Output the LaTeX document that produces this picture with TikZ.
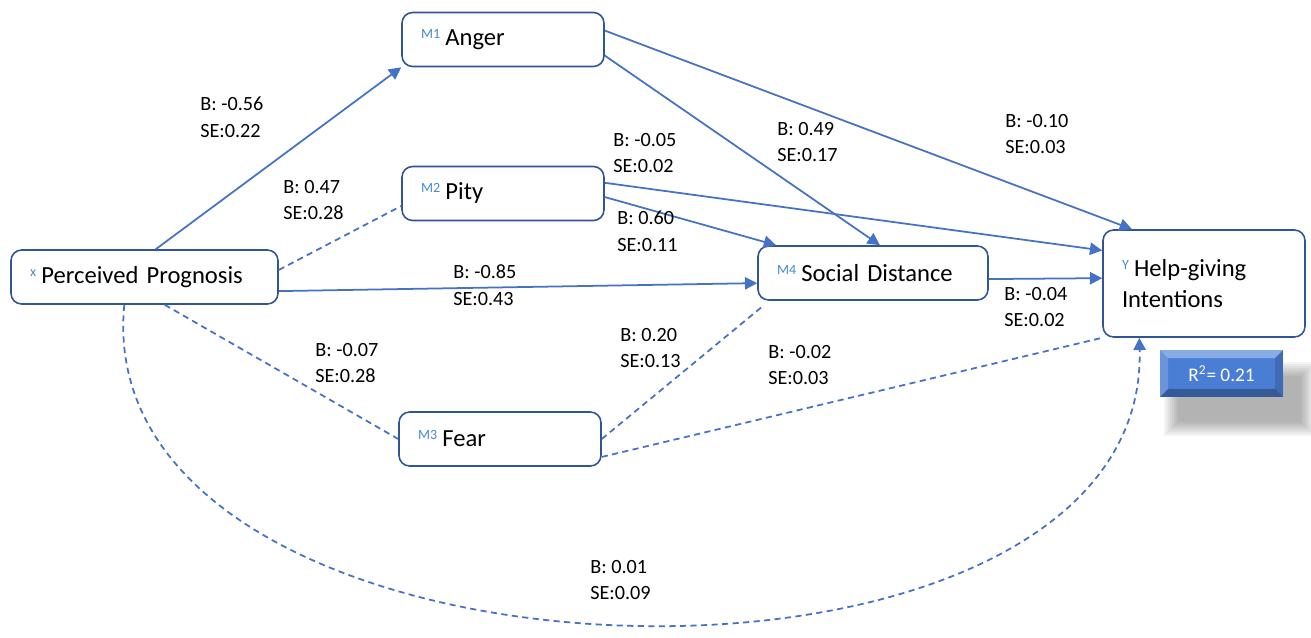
\documentclass[tikz,border=0pt]{standalone}
\usepackage{fontspec}
\setmainfont{Carlito}
\usepackage{tikz}
\usetikzlibrary{arrows.meta}
\usetikzlibrary{calc}
\usepackage{xcolor}

\definecolor{lineblue}{RGB}{68,114,196}
\definecolor{boxblue}{RGB}{47,85,151}
\definecolor{tagblue}{RGB}{70,140,205}
\definecolor{barblue}{RGB}{74,126,212}

\newcommand{\vtag}[1]{\raisebox{4pt}{\fontsize{8}{8}\selectfont\color{tagblue}#1}\hspace{3pt}}

\begin{document}
\begin{tikzpicture}[x=0.02cm, y=-0.02cm,
    box/.style={draw=boxblue, line width=0.9pt, rounded corners=6pt, fill=white, align=left,
        inner xsep=0.38cm, minimum height=1.08cm, font=\fontsize{14}{17.6}\selectfont},
    lab/.style={anchor=west, align=left, inner sep=0pt, font=\fontsize{11.5}{15.3}\selectfont},
    link/.style={draw=lineblue, line width=1pt},
    weak/.style={link, dash pattern=on 3.5pt off 2.5pt},
    rbox/.style={fill=barblue, text=white, minimum width=2.46cm, minimum height=0.94cm,
        inner sep=0pt, font=\fontsize{11}{13}\selectfont},
    >={Triangle[length=7pt,width=7pt]}]
    \useasboundingbox (0,0) rectangle (1311,638);

    % Variables
    \node[box, text width=4.58cm] (x) at (144.5,277) {\vtag{x}Perceived Prognosis};
    \node[box, text width=3.28cm] (m1) at (503,39.5) {\vtag{M1}Anger};
    \node[box, text width=3.28cm] (m2) at (503,193.5) {\vtag{M2}Pity};
    \node[box, text width=3.28cm] (m3) at (500,439) {\vtag{M3}Fear};
    \node[box, text width=3.84cm] (m4) at (873,273) {\vtag{M4}Social Distance};
    \node[box, text width=3.28cm, minimum height=2.14cm] (y) at (1204,283.5) {\vtag{Y}Help-giving\\Intentions};

    % R squared
    \foreach \g in {0,2,...,14}
        \fill[black, opacity=0.045] (1164+\g,362+\g) rectangle (1315-\g,436-\g);
    \node[rbox, path picture={
        \fill[white, opacity=0.35] (path picture bounding box.north west) -- (path picture bounding box.north east)
            -- ++(-0.16cm,-0.16cm) -- ($(path picture bounding box.north west)+(0.16cm,-0.16cm)$) -- cycle;
        \fill[white, opacity=0.18] (path picture bounding box.north west) -- (path picture bounding box.south west)
            -- ++(0.16cm,0.16cm) -- ($(path picture bounding box.north west)+(0.16cm,-0.16cm)$) -- cycle;
        \fill[black, opacity=0.15] (path picture bounding box.north east) -- (path picture bounding box.south east)
            -- ++(-0.16cm,0.16cm) -- ($(path picture bounding box.north east)+(-0.16cm,-0.16cm)$) -- cycle;
        \fill[black, opacity=0.28] (path picture bounding box.south west) -- (path picture bounding box.south east)
            -- ++(-0.16cm,0.16cm) -- ($(path picture bounding box.south west)+(0.16cm,0.16cm)$) -- cycle;
    }] (r2) at (1221.5,373.5) {R\textsuperscript{2}= 0.21};

    % Paths
    \draw[link,->] (x.68) -- (m1.south west);
    \draw[weak] (x.3) -- (m2.187);
    \draw[link,->] (x.-6) -- (m4.185);
    \draw[weak] (x.-54) -- (m3.west);
    \draw[link,->] (m1.-9) -- (m4.76);
    \draw[link,->] (m1.5) -- (y.143);
    \draw[link,->] (m2.6) -- (y.162);
    \draw[link,->] (m2.-2) -- (m4.164);
    \draw[link,->] (m4.-3) -- (y.177);
    \draw[weak, shorten >=6pt] (m3.east) -- (m4.195);
    \draw[weak] (m3.-10) -- (y.south west);
    \draw[weak,->] (x.234) .. controls (85,710) and (1150,740) .. (y.220);

    % Coefficients
    \node[lab] (l1) at (200,117) {B: -0.56\\SE:0.22};
    \node[lab] (l2) at (283,200) {B: 0.47\\SE:0.28};
    \node[lab] (l3) at (453,285) {B: -0.85\\SE:0.43};
    \node[lab] (l4) at (315,363) {B: -0.07\\SE:0.28};
    \node[lab] (l5) at (613,153) {B: -0.05\\SE:0.02};
    \node[lab] (l6) at (617,231) {B: 0.60\\SE:0.11};
    \node[lab] (l7) at (777,142) {B: 0.49\\SE:0.17};
    \node[lab] (l8) at (1005,134) {B: -0.10\\SE:0.03};
    \node[lab] (l9) at (1004,307) {B: -0.04\\SE:0.02};
    \node[lab] (l10) at (620,348) {B: 0.20\\SE:0.13};
    \node[lab] (l11) at (768,365) {B: -0.02\\SE:0.03};
    \node[lab] (l12) at (590,580) {B: 0.01\\SE:0.09};
\end{tikzpicture}
\end{document}
